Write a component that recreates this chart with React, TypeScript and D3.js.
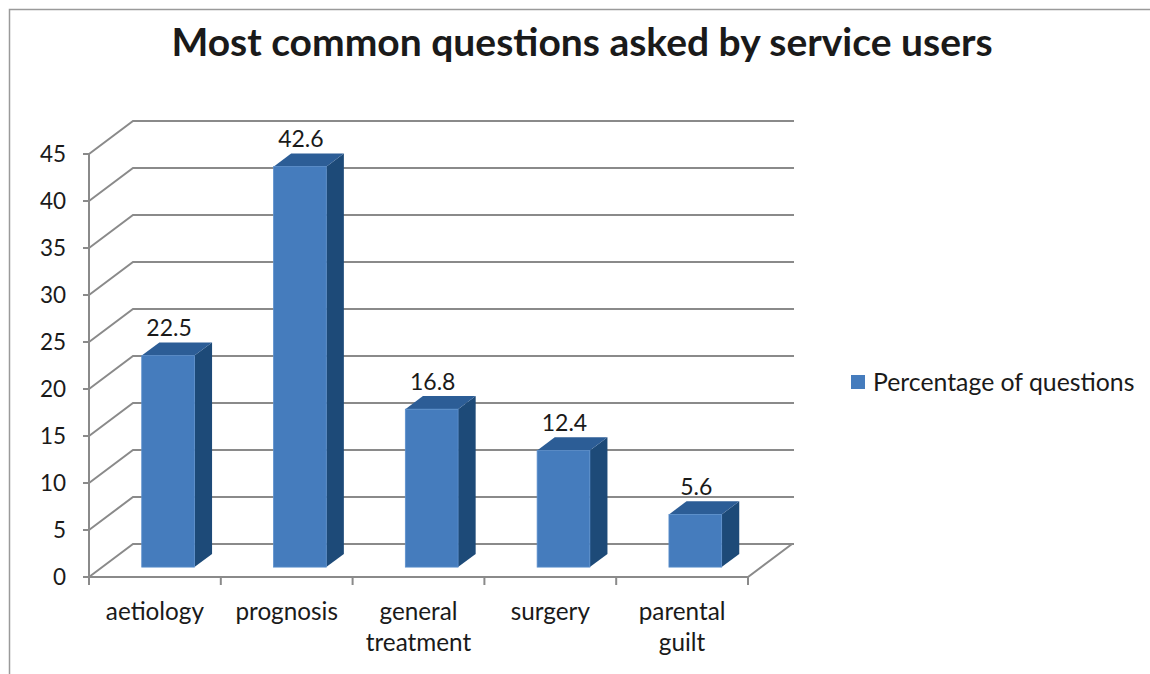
import React from "react";
import * as d3 from "d3";

const title = "Most common questions asked by service users";
const categories = ["aetiology", "prognosis", "general treatment", "surgery", "parental guilt"];
const categoryLines = [["aetiology"], ["prognosis"], ["general", "treatment"], ["surgery"], ["parental", "guilt"]];
const seriesName = "Percentage of questions";
const values = [22.5, 42.6, 16.8, 12.4, 5.6];
const yTicks = [0, 5, 10, 15, 20, 25, 30, 35, 40, 45];

const FONT = "Lato, 'Open Sans', sans-serif";
const W = 1150;
const H = 674;

export default function App() {
  const x0 = 89;
  const x1 = 748;
  const DX = 44;
  const DY = -33;
  const y = d3.scaleLinear().domain([0, 45]).range([577, 154]);
  const x = d3.scaleBand<string>().domain(categories).range([x0, x1]).paddingInner(0.6).paddingOuter(0.3);
  const step = x.step();
  const bw = x.bandwidth();
  const f1 = 0.3;
  const f2 = 0.7;
  const grid = "#8a8a8a";
  const ink = "#1a1a1a";

  return (
    <svg width={W} height={H} style={{ display: "block", position: "absolute", left: 0, top: 0 }}>
      <rect x={0} y={0} width={W} height={H} fill="#fff" />
      <path d={`M9.5,${H} V9.5 H${W}`} fill="none" stroke="#9a9a9a" strokeWidth={1.5} />
      <text x={582} y={56} textAnchor="middle" fontFamily={FONT} fontWeight={700} fontSize={39} fill={ink}>
        {title}
      </text>
      {/* back wall gridlines with left-side diagonals */}
      {yTicks.map((t) => (
        <path
          key={"g" + t}
          d={`M${x0},${y(t)} L${x0 + DX},${y(t) + DY} H${x1 + DX + 2}`}
          fill="none"
          stroke={grid}
          strokeWidth={2}
        />
      ))}
      {/* floor front edge and right diagonal */}
      <path d={`M${x0},${y(0)} H${x1} L${x1 + DX},${y(0) + DY}`} fill="none" stroke={grid} strokeWidth={2} />
      {/* front vertical axis */}
      <line x1={x0} x2={x0} y1={y(45)} y2={y(0)} stroke={grid} strokeWidth={2} />
      {yTicks.map((t) => (
        <g key={"t" + t}>
          <line x1={x0 - 6} x2={x0} y1={y(t)} y2={y(t)} stroke={grid} strokeWidth={2} />
          <text x={66} y={y(t)} dy="0.36em" textAnchor="end" fontFamily={FONT} fontSize={22.5} fill={ink}>
            {t}
          </text>
        </g>
      ))}
      {/* category ticks */}
      {d3.range(categories.length + 1).map((i) => (
        <line
          key={"c" + i}
          x1={x0 + i * step}
          x2={x0 + i * step}
          y1={y(0)}
          y2={y(0) + 8}
          stroke={grid}
          strokeWidth={2}
        />
      ))}
      {/* bars */}
      {categories.map((c, i) => {
        const v = values[i];
        const bx = (x(c) as number) + DX * f1;
        const yb = y(0) + DY * f1;
        const yt = y(v) + DY * f1;
        const ddx = DX * (f2 - f1);
        const ddy = DY * (f2 - f1);
        return (
          <g key={"b" + c}>
            <path
              d={`M${bx + bw},${yt} L${bx + bw + ddx},${yt + ddy} V${yb + ddy} L${bx + bw},${yb} Z`}
              fill="#1d4a78"
            />
            <path
              d={`M${bx},${yt} L${bx + ddx},${yt + ddy} H${bx + bw + ddx} L${bx + bw},${yt} Z`}
              fill="#2c5d96"
            />
            <rect x={bx} y={yt} width={bw} height={yb - yt} fill="#457cbd" stroke="#5b8fcc" strokeWidth={0.8} />
            <text
              x={bx + bw / 2 + 1}
              y={yt + ddy - 6}
              textAnchor="middle"
              fontFamily={FONT}
              fontSize={23}
              fill={ink}
            >
              {v}
            </text>
          </g>
        );
      })}
      {/* category labels */}
      {categories.map((c, i) => (
        <text
          key={"l" + c}
          x={(x(c) as number) + bw / 2}
          y={620}
          textAnchor="middle"
          fontFamily={FONT}
          fontSize={24.3}
          fill={ink}
        >
          {categoryLines[i].map((ln, j) => (
            <tspan key={j} x={(x(c) as number) + bw / 2} dy={j === 0 ? 0 : 31}>
              {ln}
            </tspan>
          ))}
        </text>
      ))}
      {/* legend */}
      <rect x={851} y={375} width={14} height={14} fill="#457cbd" />
      <text x={873} y={391} fontFamily={FONT} fontSize={24.8} fill={ink}>
        {seriesName}
      </text>
    </svg>
  );
}
